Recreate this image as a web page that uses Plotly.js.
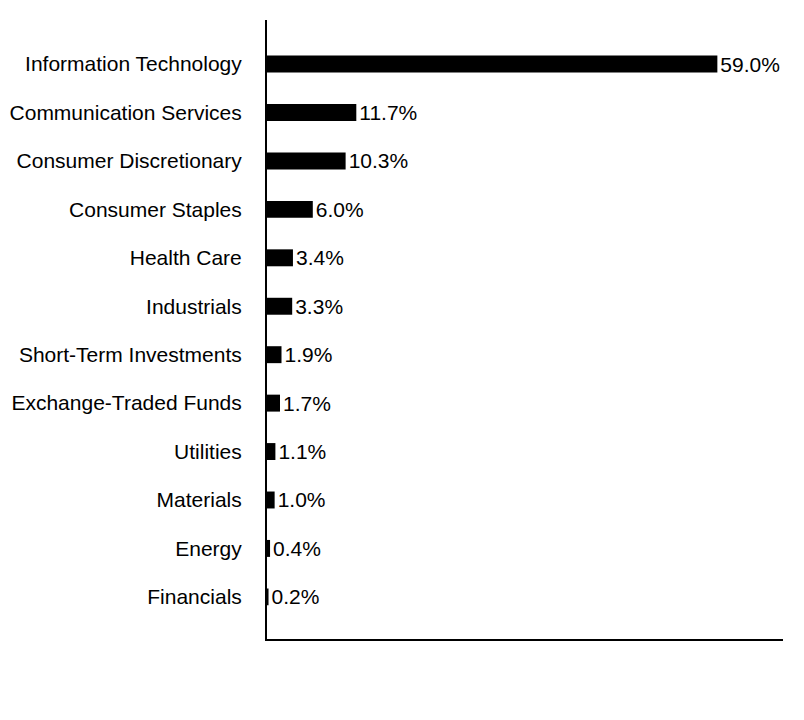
<!DOCTYPE html>
<html>
<head>
<meta charset="utf-8">
<script src="https://cdn.plot.ly/plotly-3.0.1.min.js"></script>
<style>html,body{margin:0;padding:0;background:#fff;}#chart{width:804px;height:720px;}</style>
</head>
<body>
<div id="chart"></div>
<script>
const categories = ["Information Technology","Communication Services","Consumer Discretionary","Consumer Staples","Health Care","Industrials","Short-Term Investments","Exchange-Traded Funds","Utilities","Materials","Energy","Financials"];
const values = [59.0, 11.7, 10.3, 6.0, 3.4, 3.3, 1.9, 1.7, 1.1, 1.0, 0.4, 0.2];
const labels = values.map(v => v.toFixed(1) + "%");

const trace = {
  type: "bar",
  orientation: "h",
  x: values,
  y: categories,
  text: labels,
  textposition: "outside",
  constraintext: "none",
  cliponaxis: false,
  textfont: {family: "Liberation Sans, Arial, sans-serif", size: 21, color: "#000"},
  marker: {color: "#000"},
  width: 0.35,
  hoverinfo: "none"
};

const layout = {
  width: 804, height: 720,
  margin: {l: 267, r: 21, t: 20, b: 81},
  paper_bgcolor: "#fff", plot_bgcolor: "#fff",
  showlegend: false,
  font: {family: "Liberation Sans, Arial, sans-serif", size: 21, color: "#000"},
  xaxis: {
    range: [0, 67.6],
    showgrid: false, zeroline: false,
    showticklabels: false, ticks: "",
    showline: true, linecolor: "#000", linewidth: 2
  },
  yaxis: {
    type: "category",
    autorange: false,
    range: [11.87, -0.91],
    showgrid: false, zeroline: false,
    ticks: "outside", ticklen: 19, tickcolor: "rgba(0,0,0,0)",
    showline: true, linecolor: "#000", linewidth: 2,
    tickfont: {family: "Liberation Sans, Arial, sans-serif", size: 21, color: "#000"}
  }
};

Plotly.newPlot("chart", [trace], layout, {displayModeBar: false, staticPlot: true});
</script>
</body>
</html>
